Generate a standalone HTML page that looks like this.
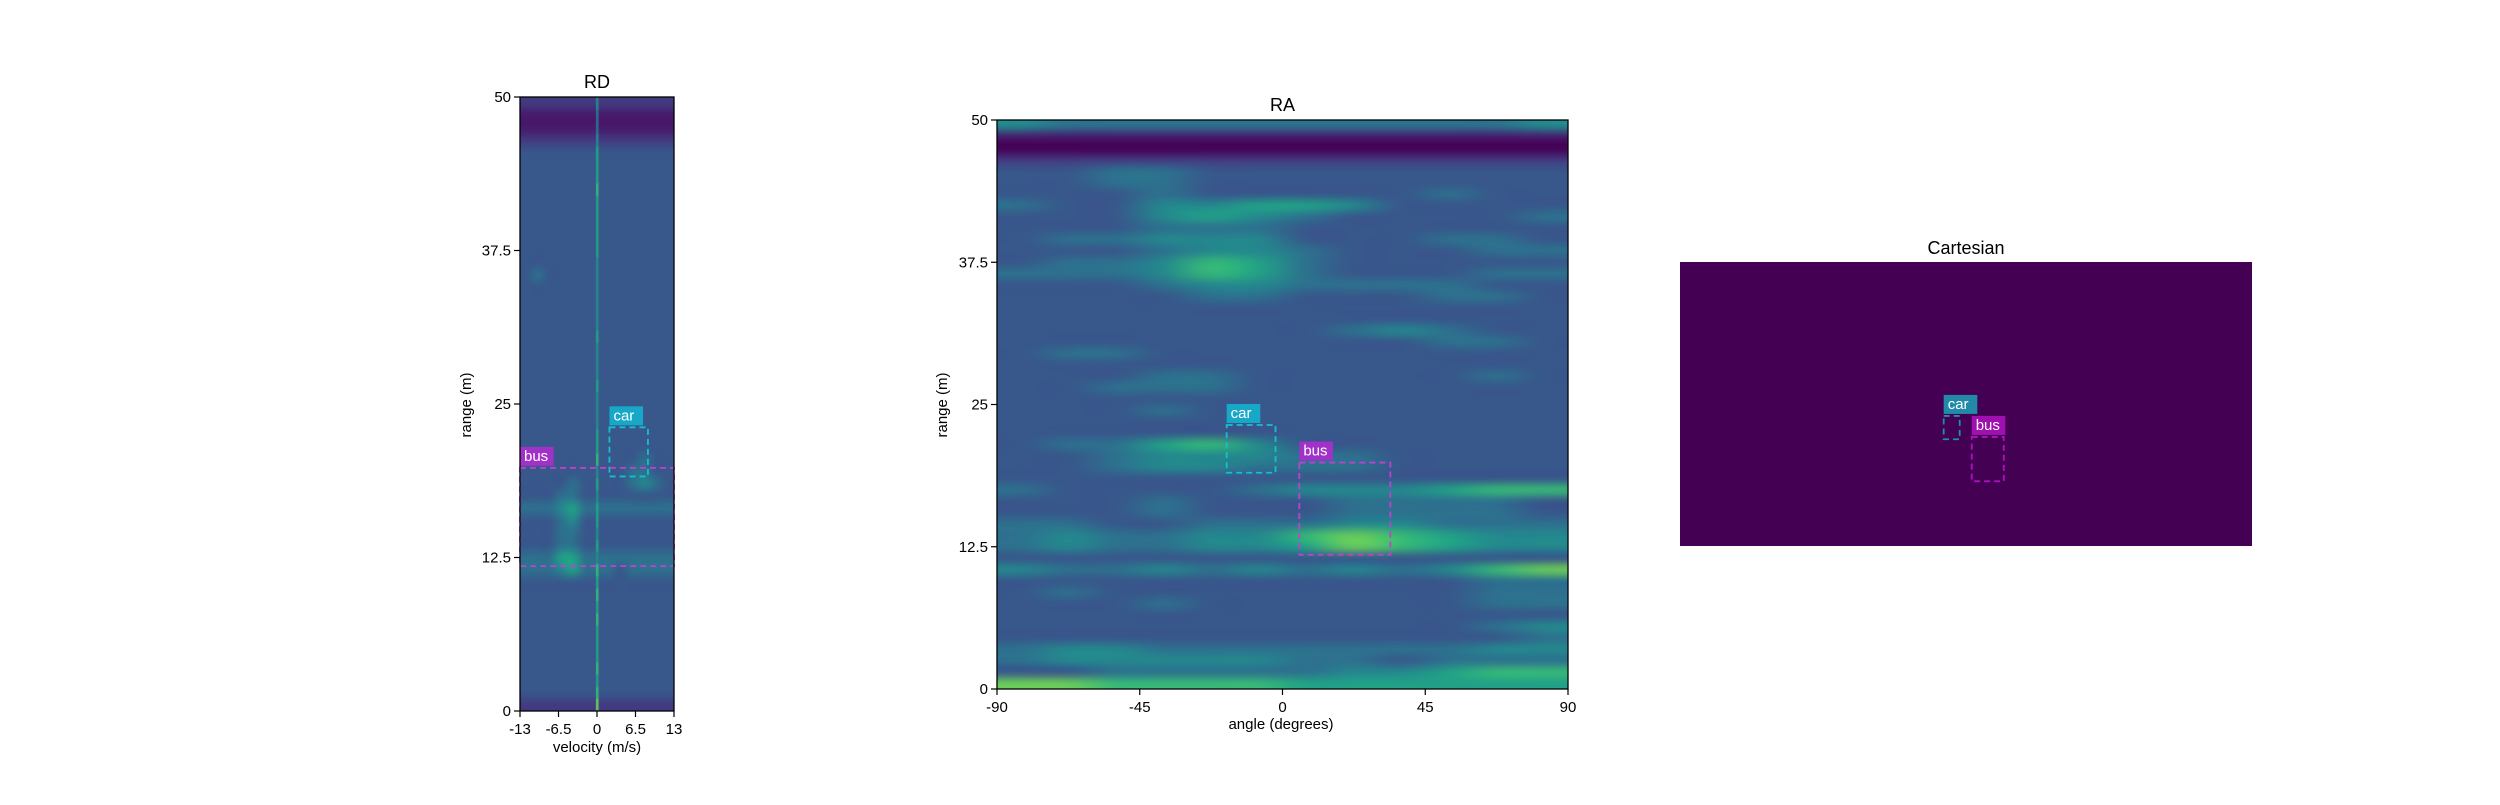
<!DOCTYPE html>
<html><head><meta charset="utf-8">
<style>
html,body{margin:0;padding:0;background:#fff;}
svg text{font-family:"Liberation Sans","DejaVu Sans",sans-serif;fill:#000;}
</style></head>
<body>
<svg id="fig" width="2500" height="800" viewBox="0 0 2500 800" xmlns="http://www.w3.org/2000/svg">
<rect width="2500" height="800" fill="#fff"/>
<g id="rd"></g>
<g id="ra"></g>
<g id="ca"></g>
</svg>
<script>
// ---------- DATA ----------
// RD heatmap: rows from range 49-50 (top) down to 0-1, 13 velocity bins (-13..13)
const rdRows = [
[2,2,2,2,2,2,2,2,2,2,2,2,2],[1,1,1,1,1,1,1,1,1,1,1,1,1],[1,1,1,1,1,1,1,1,1,1,1,1,1],[2,2,2,2,2,2,2,2,2,2,2,2,2],
[3,3,3,3,3,3,3,3,3,3,3,3,3],[3,3,3,3,3,3,3,3,3,3,3,3,3],[3,3,3,3,3,3,3,3,3,3,3,3,3],[3,3,3,3,3,3,3,3,3,3,3,3,3],
[3,3,3,3,3,3,3,3,3,3,3,3,3],[3,3,3,3,3,3,3,3,3,3,3,3,3],[3,3,3,3,3,3,3,3,3,3,3,3,3],[3,3,3,3,3,3,3,3,3,3,3,3,3],
[3,3,3,3,3,3,3,3,3,3,3,3,3],[3,3,3,3,3,3,3,3,3,3,3,3,3],[3,4,3,3,3,3,3,3,3,3,3,3,3],[3,3,3,3,3,3,3,3,3,3,3,3,3],
[3,3,3,3,3,3,3,3,3,3,3,3,3],[3,3,3,3,3,3,3,3,3,3,3,3,3],[3,3,3,3,3,3,3,3,3,3,3,3,3],[3,3,3,3,3,3,3,3,3,3,3,3,3],
[3,3,3,3,3,3,3,3,3,3,3,3,3],[3,3,3,3,3,3,3,3,3,3,3,3,3],[3,3,3,3,3,3,3,3,3,3,3,3,3],[3,3,3,3,3,3,3,3,3,3,3,3,3],
[3,3,3,3,3,3,3,3,3,3,3,3,3],[3,3,3,3,3,3,3,3,3,3,3,3,3],[3,3,3,3,3,3,3,3,3,3,3,3,3],[3,3,3,3,3,3,3,3,3,3,3,3,3],
[3,3,3,3,3,3,3,3,3,3,3,3,3],[3,3,3,3,3,3,3,3,3,3,4,3,3],[3,3,3,3,3,3,3,3,3,4,4,3,3],[3,3,3,3,4,3,3,3,3,4,5,4,3],
[3,3,3,4,4,3,3,3,3,3,3,3,3],[4,4,4,5,6,4,4,4,4,4,4,4,4],[3,3,3,4,5,3,3,3,3,3,3,3,3],[3,3,3,4,4,3,3,3,3,3,3,3,3],
[3,3,3,4,4,3,3,3,3,3,3,3,3],[4,4,4,6,6,4,4,4,4,4,4,4,4],[4,4,4,5,6,4,4,4,3,4,4,4,4],[3,3,3,3,3,3,3,3,3,3,3,3,3],
[3,3,3,3,3,3,3,3,3,3,3,3,3],[3,3,3,3,3,3,3,3,3,3,3,3,3],[3,3,3,3,3,3,3,3,3,3,3,3,3],[3,3,3,3,3,3,3,3,3,3,3,3,3],
[3,3,3,3,3,3,3,3,3,3,3,3,3],[3,3,3,3,3,3,3,3,3,3,3,3,3],[3,3,3,3,3,3,3,3,3,3,3,3,3],[3,3,3,3,3,3,3,3,3,3,3,3,3],
[3,3,3,3,3,3,3,3,3,3,3,3,3],[2,2,2,2,2,2,2,2,2,2,2,2,2]
];
// zero-velocity line intensity per range bin (index 0 = 0-1 m)
const rdZeroLine = [8,7,6,7,6,6,6,7,6,7,6,7,5,6,5,6,6,5,6,5,7,6,6,5,5,5,6,5,5,5,6,5,5,5,5,5,5,6,6,6,6,6,7,6,6,6,5,4,4,5];
// RA heatmap: rows from range 49-50 (top) down to 0-1, 12 angle bins (-90..90)
const raRows = [
[5,4,4,4,4,4,4,4,4,4,4,5],[1,1,1,1,1,1,1,1,1,1,1,1],[0,0,0,0,0,0,0,0,0,0,0,0],[2,2,2,2,2,2,2,2,2,2,2,2],
[3,3,4,4,3,3,3,3,3,3,3,3],[3,3,4,4,3,3,3,3,3,3,3,3],[3,3,3,4,3,3,3,3,3,4,3,3],[4,3,3,5,5,6,6,5,3,3,3,3],
[3,3,3,5,6,5,4,3,3,3,3,4],[3,3,3,4,4,4,3,3,3,3,3,3],[3,4,4,5,5,5,3,3,3,4,4,3],[3,3,3,4,5,5,4,3,3,3,4,4],
[3,4,4,5,7,6,4,3,3,3,3,3],[4,4,4,5,7,6,4,3,3,3,4,4],[3,3,3,4,5,5,4,4,4,4,3,3],[3,3,3,3,4,4,3,3,3,4,4,3],
[3,3,3,3,3,3,3,3,3,3,3,3],[3,3,3,3,3,3,3,3,3,3,3,3],[3,3,3,3,3,3,3,4,5,4,3,3],[3,3,3,3,3,3,3,3,3,4,4,3],
[3,4,4,3,3,3,3,3,3,3,3,3],[3,3,3,3,3,3,3,3,3,3,3,3],[3,3,3,4,4,3,3,3,3,3,4,3],[3,3,4,4,4,3,3,3,3,3,3,3],
[3,3,3,3,3,3,3,3,3,3,3,3],[3,3,3,4,3,3,3,3,3,3,3,3],[3,3,3,3,3,3,3,3,3,3,3,3],[3,3,3,3,3,3,3,3,3,3,3,3],
[3,4,4,6,7,5,3,3,3,3,3,3],[3,3,4,5,5,5,4,4,3,3,3,3],[3,3,4,5,5,4,4,4,3,3,3,3],[3,3,3,3,3,3,3,3,3,3,3,3],
[4,3,3,3,3,4,5,5,5,6,7,7],[3,3,3,4,3,3,3,4,4,4,4,3],[3,3,3,4,3,3,3,4,4,4,4,3],[4,4,3,3,4,4,4,5,5,4,4,4],
[4,5,4,4,5,5,7,8,7,6,5,5],[4,5,4,4,5,5,6,8,7,6,5,5],[3,3,3,3,3,3,3,3,3,3,3,3],[5,4,4,5,4,5,4,5,4,5,7,8],
[3,3,3,3,3,3,3,3,3,3,4,4],[3,4,3,3,3,3,3,3,3,3,4,4],[3,3,3,4,3,3,3,3,3,3,4,4],[3,3,3,3,3,3,3,3,3,3,3,3],
[3,3,3,3,3,3,3,3,3,3,4,5],[3,3,3,3,3,3,3,3,3,3,3,4],[4,5,5,4,4,4,4,4,4,4,5,5],[4,5,5,5,5,5,4,4,3,4,4,4],
[3,3,4,4,4,4,4,5,5,6,7,7],[8,8,7,7,7,7,6,6,6,6,6,6]
];
const rdXTicks = [-13,-6.5,0,6.5,13];
const rdXTickLabels = ["-13","-6.5","0","6.5","13"];
const rangeTicks = [0,12.5,25,37.5,50];
const rangeTickLabels = ["0","12.5","25","37.5","50"];
const raXTicks = [-90,-45,0,45,90];
const raXTickLabels = ["-90","-45","0","45","90"];
// boxes: [xmin,xmax,ymin,ymax]
const rdCarBox = [2.1,8.6,19.1,23.1];
const rdBusBox = [-13,13,11.8,19.8];
const raCarBox = [-17.6,-2.2,19.0,23.2];
const raBusBox = [5.3,34,11.8,19.9];
const caCarBox = [-3.9,-1.1,18.8,22.9];
const caBusBox = [1.0,6.6,11.4,19.2];

// ---------- HELPERS ----------
const NS="http://www.w3.org/2000/svg";
function mk(tag,attrs,parent){const e=document.createElementNS(NS,tag);for(const k in attrs)e.setAttribute(k,attrs[k]);if(parent)parent.appendChild(e);return e;}
const vir=[[68,1,84],[72,40,120],[62,74,137],[49,104,142],[38,130,142],[31,158,137],[53,183,121],[109,205,89],[180,222,44],[253,231,37]];
function viridis(t){t=Math.max(0,Math.min(1,t));const p=t*9,i=Math.min(8,Math.floor(p)),f=p-i;const a=vir[i],b=vir[i+1];return[a[0]+(b[0]-a[0])*f,a[1]+(b[1]-a[1])*f,a[2]+(b[2]-a[2])*f];}
function dv(d){return d*0.1-0.03;}
function heatImage(rows,W,H,smooth){
  const nr=rows.length,nc=rows[0].length;
  const c=document.createElement('canvas');c.width=nc;c.height=nr;
  const ctx=c.getContext('2d');const im=ctx.createImageData(nc,nr);
  for(let r=0;r<nr;r++)for(let q=0;q<nc;q++){const col=viridis(dv(rows[r][q]));const o=(r*nc+q)*4;im.data[o]=col[0];im.data[o+1]=col[1];im.data[o+2]=col[2];im.data[o+3]=255;}
  ctx.putImageData(im,0,0);
  const big=document.createElement('canvas');big.width=W;big.height=H;
  const b=big.getContext('2d');b.imageSmoothingEnabled=smooth;b.imageSmoothingQuality='high';b.drawImage(c,0,0,W,H);
  return big;
}
function txt(p,x,y,s,size,anchor,extra){const t=mk('text',Object.assign({x:x,y:y,'font-size':size,'text-anchor':anchor||'middle'},extra||{}),p);t.textContent=s;return t;}
function drawBox(g,sx,sy,b,stroke,bg,label,name){
  const x0=sx(b[0]),x1=sx(b[1]),y0=sy(b[3]),y1=sy(b[2]);
  const r=mk('rect',{x:x0,y:y0,width:x1-x0,height:y1-y0,fill:'none',stroke:stroke,'stroke-width':1.8,'stroke-dasharray':'6 4'},g);
  
  const w=label.length*8.2+9;
  const lb=mk('rect',{x:x0,y:y0-21,width:w,height:19,fill:bg},g);
  
  const t=txt(g,x0+4,y0-7,label,15,'start',{style:'fill:#fff'});
  
}

// ---------- RD ----------
(function(){
  const g=document.getElementById('rd');
  const L=520,R=674,T=97,B=711;
  const sx=v=>L+(v+13)/26*(R-L), sy=r=>B-r/50*(B-T);
  const can=heatImage(rdRows,R-L,B-T,true);
  const cx=can.getContext('2d');
  for(let i=0;i<rdZeroLine.length;i++){const col=viridis(dv(rdZeroLine[i]));cx.fillStyle=`rgb(${col[0]|0},${col[1]|0},${col[2]|0})`;cx.fillRect(sx(0)-L-1,sy(i+1)-T,2.5,sy(i)-sy(i+1)+0.5);}
  const img=mk('image',{x:L,y:T,width:R-L,height:B-T,href:can.toDataURL(),preserveAspectRatio:'none'},g);
  
  drawBox(g,sx,sy,rdCarBox,'#17becf','#17a8c8','car','rd-car');
  drawBox(g,sx,sy,rdBusBox,'#c040d0','#a032c8','bus','rd-bus');
  const fr=mk('rect',{x:L,y:T,width:R-L,height:B-T,fill:'none',stroke:'#000','stroke-width':1.3},g);
  
  rangeTicks.forEach((v,i)=>{mk('line',{x1:L,x2:L-6,y1:sy(v),y2:sy(v),stroke:'#000','stroke-width':1.2},g);const t=txt(g,L-9,sy(v)+5,rangeTickLabels[i],15,'end');});
  rdXTicks.forEach((v,i)=>{mk('line',{x1:sx(v),x2:sx(v),y1:B,y2:B+6,stroke:'#000','stroke-width':1.2},g);const t=txt(g,sx(v),B+23,rdXTickLabels[i],15);});
  let t=txt(g,(L+R)/2,88,'RD',18);
  t=txt(g,(L+R)/2,752,'velocity (m/s)',15);
  t=txt(g,0,0,'range (m)',15,'middle',{transform:'translate(471,405) rotate(-90)'});
})();

// ---------- RA ----------
(function(){
  const g=document.getElementById('ra');
  const L=997,R=1568,T=120,B=689;
  const sx=a=>L+(a+90)/180*(R-L), sy=r=>B-r/50*(B-T);
  const can=heatImage(raRows,R-L,B-T,true);
  const img=mk('image',{x:L,y:T,width:R-L,height:B-T,href:can.toDataURL(),preserveAspectRatio:'none'},g);
  
  drawBox(g,sx,sy,raCarBox,'#17becf','#17a8c8','car','ra-car');
  drawBox(g,sx,sy,raBusBox,'#c040d0','#a032c8','bus','ra-bus');
  const fr=mk('rect',{x:L,y:T,width:R-L,height:B-T,fill:'none',stroke:'#000','stroke-width':1.3},g);
  
  rangeTicks.forEach((v,i)=>{mk('line',{x1:L,x2:L-6,y1:sy(v),y2:sy(v),stroke:'#000','stroke-width':1.2},g);const t=txt(g,L-9,sy(v)+5,rangeTickLabels[i],15,'end');});
  raXTicks.forEach((v,i)=>{mk('line',{x1:sx(v),x2:sx(v),y1:B,y2:B+6,stroke:'#000','stroke-width':1.2},g);const t=txt(g,sx(v),B+23,raXTickLabels[i],15);});
  let t=txt(g,(L+R)/2,111,'RA',18);
  t=txt(g,1281,729,'angle (degrees)',15);
  t=txt(g,0,0,'range (m)',15,'middle',{transform:'translate(947,405) rotate(-90)'});
})();

// ---------- Cartesian ----------
(function(){
  const g=document.getElementById('ca');
  const L=1680,R=2252,T=262,B=546;
  const sx=x=>L+(x+50)/100*(R-L), sy=y=>B-y/50*(B-T);
  const bg=mk('rect',{x:L,y:T,width:R-L,height:B-T,fill:'#440154'},g);
  
  drawBox(g,sx,sy,caCarBox,'#1f8cb0','#228aa8','car','cartesian-car');
  drawBox(g,sx,sy,caBusBox,'#b010c0','#a010b0','bus','cartesian-bus');
  const t=txt(g,(L+R)/2,254,'Cartesian',18);
})();
</script>
</body></html>
